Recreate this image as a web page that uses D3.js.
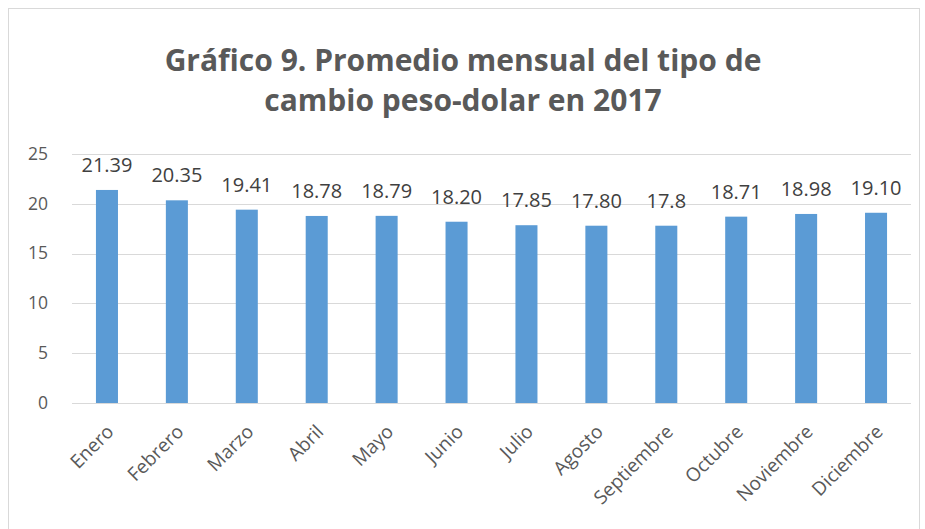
<!DOCTYPE html>
<html lang="es">
<head>
<meta charset="UTF-8">
<title>Gráfico 9</title>
<style>
  html, body { margin: 0; padding: 0; background: #fff; }
  body { font-family: 'Open Sans', sans-serif; }
  .grid line { stroke: #d9d9d9; stroke-width: 1px; }
  .axis text { fill: #595959; font-family: 'Open Sans', sans-serif; }
  .y.axis text { font-size: 17.5px; }
  .x.axis text { font-size: 19px; }
  .label { fill: #404040; font-size: 20px; }
</style>
</head>
<body>
<div id="chart"></div>
<script src="https://d3js.org/d3.v7.min.js"></script>
<script>
  // datos
  var months = ["Enero", "Febrero", "Marzo", "Abril", "Mayo", "Junio", "Julio",
                "Agosto", "Septiembre", "Octubre", "Noviembre", "Diciembre"];
  var rates = [21.39, 20.35, 19.41, 18.78, 18.79, 18.20, 17.85, 17.80, 17.8, 18.71, 18.98, 19.10];
  var rateLabels = ["21.39", "20.35", "19.41", "18.78", "18.79", "18.20", "17.85",
                    "17.80", "17.8", "18.71", "18.98", "19.10"];
  var yTicks = [0, 5, 10, 15, 20, 25];

  var width = 925, height = 529;
  var plotLeft = 72, plotRight = 911, plotTop = 154, plotBottom = 403;

  var svg = d3.select("#chart").append("svg")
      .attr("width", width)
      .attr("height", height);

  // marco
  svg.append("rect")
      .attr("x", 8.5).attr("y", 8.5)
      .attr("width", 911).attr("height", 540)
      .attr("fill", "#fff")
      .attr("stroke", "#d9d9d9");

  // titulo
  var title = svg.append("text")
      .attr("text-anchor", "middle")
      .attr("fill", "#595959")
      .style("font-size", "30px")
      .style("font-weight", "bold");
  title.append("tspan").attr("x", 463).attr("y", 71).text("Gráfico 9. Promedio mensual del tipo de");
  title.append("tspan").attr("x", 463).attr("y", 111).text("cambio peso-dolar en 2017");

  var x = d3.scaleBand()
      .domain(months)
      .range([plotLeft, plotRight])
      .paddingInner(0.685)
      .paddingOuter(0.3425);

  var y = d3.scaleLinear()
      .domain([0, 25])
      .range([plotBottom, plotTop]);

  // lineas de cuadricula
  svg.append("g")
      .attr("class", "grid")
      .selectAll("line")
      .data(yTicks)
      .enter().append("line")
      .attr("x1", plotLeft).attr("x2", plotRight)
      .attr("y1", function(d) { return Math.round(y(d)) + 0.5; })
      .attr("y2", function(d) { return Math.round(y(d)) + 0.5; });

  // eje y
  var yAxis = svg.append("g")
      .attr("class", "y axis")
      .attr("transform", "translate(" + plotLeft + ",0)")
      .call(d3.axisLeft(y).tickValues(yTicks).tickSize(0).tickPadding(24));
  yAxis.select(".domain").remove();
  yAxis.selectAll("text").attr("dy", "0.3em");

  // barras
  svg.selectAll(".bar")
      .data(rates)
      .enter().append("rect")
      .attr("class", "bar")
      .attr("fill", "#5b9bd5")
      .attr("x", function(d, i) { return x(months[i]); })
      .attr("width", x.bandwidth())
      .attr("y", function(d) { return y(d); })
      .attr("height", function(d) { return plotBottom - y(d); });

  // etiquetas de datos
  svg.selectAll(".label")
      .data(rates)
      .enter().append("text")
      .attr("class", "label")
      .attr("text-anchor", "middle")
      .attr("x", function(d, i) { return x(months[i]) + x.bandwidth() / 2; })
      .attr("y", function(d) { return y(d) - 18; })
      .text(function(d, i) { return rateLabels[i]; });

  // eje x
  var xAxis = svg.append("g")
      .attr("class", "x axis")
      .attr("transform", "translate(0," + plotBottom + ")")
      .call(d3.axisBottom(x).tickSize(0).tickPadding(0));
  xAxis.select(".domain").remove();
  xAxis.selectAll("text")
      .attr("text-anchor", "end")
      .attr("dy", null)
      .attr("transform", "translate(8,30) rotate(-45)");
</script>
</body>
</html>
